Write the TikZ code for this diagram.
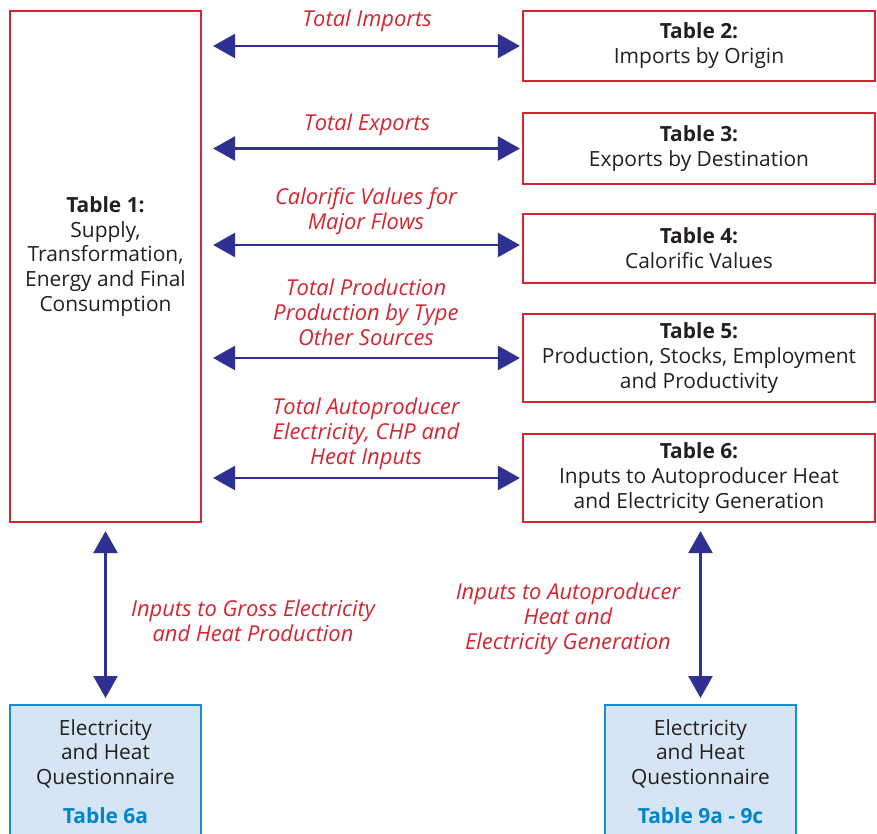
\documentclass[tikz,border=0pt]{standalone}
\usepackage{fontspec}
\setmainfont{Open Sans}
\usepackage{tikz}
\usetikzlibrary{arrows.meta}
\definecolor{boxred}{RGB}{213,37,48}
\definecolor{flowblue}{RGB}{46,49,146}
\definecolor{qfill}{RGB}{214,229,244}
\definecolor{qline}{RGB}{28,141,208}
\definecolor{qtext}{RGB}{0,133,202}
\definecolor{ink}{RGB}{35,31,32}
\newcommand\fs{\fontsize{21}{25}\selectfont}
\newcommand\fsi{\fontsize{22}{25}\selectfont}
\tikzset{
  tab/.style={draw=boxred,line width=2.2bp,align=center,inner sep=0pt,font=\fs,text=ink},
  quest/.style={draw=qline,fill=qfill,line width=2.2bp,align=center,inner xsep=0pt,
    inner ysep=14bp,minimum width=191bp,anchor=north,font=\fs,text=ink},
  flow/.style={flowblue,line width=2.5bp,
    {Triangle[length=22bp,width=24bp]}-{Triangle[length=22bp,width=24bp]}},
  lab/.style={text=boxred,font=\fsi\itshape,align=center}
}
\def\TB#1{{\bfseries #1}\\}

\begin{document}
\begin{tikzpicture}[x=1bp,y=-1bp]
\useasboundingbox (0,0) rectangle (877,834);
\clip (0,0) rectangle (877,834);
% tables
\node[tab,minimum width=191bp,minimum height=511bp] (t1) at (105.5,266.5)
  {\TB{Table 1:}Supply,\\Transformation,\\Energy and Final\\Consumption\\ \mbox{}};
\node[tab,minimum width=352bp,minimum height=70bp] (t2) at (699,46)
  {\TB{Table 2:}Imports by Origin};
\node[tab,minimum width=352bp,minimum height=71bp] (t3) at (699,148.5)
  {\TB{Table 3:}Exports by Destination};
\node[tab,minimum width=352bp,minimum height=69bp] (t4) at (699,248.5)
  {\TB{Table 4:}Calorific Values};
\node[tab,minimum width=352bp,minimum height=88bp] (t5) at (699,358)
  {\TB{Table 5:}Production, Stocks, Employment\\and Productivity};
\node[tab,minimum width=352bp,minimum height=88bp] (t6) at (699,478)
  {\TB{Table 6:}Inputs to Autoproducer Heat\\and Electricity Generation};
% questionnaires
\node[quest] (q1) at (105.5,704)
  {Electricity\\and Heat\\Questionnaire\\[14bp]{\bfseries\color{qtext}Table 6a}};
\node[quest] (q2) at (700.5,704)
  {Electricity\\and Heat\\Questionnaire\\[14bp]{\bfseries\color{qtext}Table 9a - 9c}};
% flows
\foreach \t in {t2,t3,t5,t6}
  \draw[flow,shorten <=11bp,shorten >=2bp] (\t.west -| t1.east) -- (\t.west);
\draw[flow,shorten <=11bp,shorten >=2bp] ([yshift=3.5bp]t4.west -| t1.east) -- ([yshift=3.5bp]t4.west);
\draw[flow,shorten <=8bp,shorten >=6bp] (t1.south) -- (q1.north);
\draw[flow,shorten <=8bp,shorten >=6bp] (t6.south -| q2.north) -- (q2.north);
% labels
\node[lab] (l2) at (367,21) {Total Imports};
\node[lab] (l3) at (367,125) {Total Exports};
\node[lab] (l4) at (366,211) {Calorific Values for\\Major Flows};
\node[lab] (l5) at (366,312) {Total Production\\Production by Type\\Other Sources};
\node[lab] (l6) at (366,434) {Total Autoproducer\\Electricity, CHP and\\Heat Inputs};
\node[lab] (l7) at (253,621) {Inputs to Gross Electricity\\and Heat Production};
\node[lab] (l8) at (568,619) {Inputs to Autoproducer\\Heat and\\Electricity Generation};
\end{tikzpicture}
\end{document}
